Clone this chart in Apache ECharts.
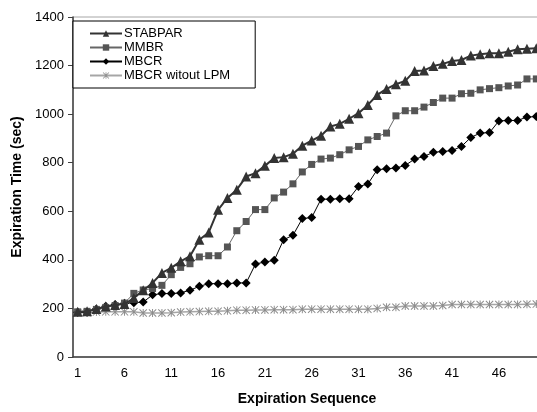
<!DOCTYPE html>
<html lang="en">
<head>
  <meta charset="UTF-8">
  <title>expiration-time</title>
  <style>
    html,
    body,
    #main {
      margin: 0;
      padding: 0;
    }

    #main {
      width: 537px;
      height: 412px;
      background: #fff;
    }
  </style>
</head>
<body>
  <div id="main"></div>
  <script src="https://cdn.jsdelivr.net/npm/echarts@6/dist/echarts.min.js"></script>
  <script>
    // expiration sequence 1..50
    const seq = [];
    for (let i = 1; i <= 50; i++) seq.push(String(i));

    const stabpar = [186, 188, 198, 208, 214, 218, 243, 275, 305, 346,
      367, 394, 415, 483, 513, 606, 655, 689, 743, 757,
      787, 819, 823, 837, 870, 891, 911, 949, 960, 981,
      1004, 1038, 1079, 1104, 1123, 1137, 1178, 1180, 1198, 1207,
      1219, 1223, 1241, 1247, 1251, 1251, 1257, 1267, 1269, 1271];

    const mmbr = [186, 188, 196, 204, 212, 222, 262, 276, 282, 295,
      339, 369, 384, 412, 417, 417, 453, 520, 558, 607,
      607, 655, 679, 713, 762, 793, 815, 819, 833, 853,
      867, 894, 908, 922, 993, 1014, 1014, 1029, 1048, 1066,
      1066, 1084, 1086, 1100, 1105, 1109, 1116, 1120, 1145, 1145];

    const mbcr = [184, 184, 198, 209, 216, 221, 223, 226, 256, 261,
      261, 264, 275, 291, 302, 302, 302, 305, 305, 383,
      391, 398, 483, 501, 570, 574, 650, 650, 652, 652,
      702, 712, 771, 775, 778, 789, 815, 826, 843, 846,
      850, 867, 904, 922, 924, 972, 974, 974, 988, 990];

    const mbcrNoLpm = [182, 182, 185, 186, 186, 186, 186, 181, 181, 181,
      182, 185, 186, 187, 188, 188, 190, 193, 193, 194,
      194, 195, 195, 195, 197, 197, 197, 197, 197, 197,
      197, 197, 200, 205, 205, 210, 210, 210, 210, 212,
      216, 216, 216, 216, 216, 216, 216, 216, 217, 218];

    // excel style asterisk marker (X plus vertical bar)
    const asterisk = 'path://M4.4,0 L5.6,0 L5.6,10 L4.4,10 Z ' +
      'M0,0.85 L0.85,0 L10,9.15 L9.15,10 Z ' +
      'M10,0.85 L0.85,10 L0,9.15 L9.15,0 Z';

    const font = 'Liberation Sans, Arial, sans-serif';

    const chart = echarts.init(document.getElementById('main'));
    const option = {
      animation: false,
      backgroundColor: '#fff',
      textStyle: { fontFamily: font, color: '#000' },
      grid: {
        left: 73,
        top: 17,
        right: -4,
        bottom: 55,
        containLabel: false,
        outerBoundsMode: 'none',
        show: true,
        borderColor: '#a6a6a6',
        borderWidth: 1
      },
      legend: {
        left: 73,
        top: 21,
        orient: 'vertical',
        backgroundColor: '#fff',
        borderColor: '#000',
        borderWidth: 1,
        padding: [6, 25, 6, 16],
        itemGap: 1,
        itemWidth: 32,
        itemHeight: 8,
        textStyle: { fontFamily: font, fontSize: 13, color: '#000', padding: [0, 0, 0, -3] },
        data: ['STABPAR', 'MMBR', 'MBCR', 'MBCR witout LPM']
      },
      xAxis: {
        type: 'category',
        data: seq,
        boundaryGap: true,
        name: 'Expiration Sequence',
        nameLocation: 'middle',
        nameGap: 35,
        nameTextStyle: { fontFamily: font, fontSize: 14, fontWeight: 'bold', color: '#000' },
        axisLine: { lineStyle: { color: '#404040', width: 1.5 } },
        axisTick: { interval: 4, length: 5, lineStyle: { color: '#404040' } },
        axisLabel: { interval: 4, fontSize: 13, color: '#000', margin: 10 },
        splitLine: { show: false }
      },
      yAxis: {
        type: 'value',
        min: 0,
        max: 1400,
        interval: 200,
        name: 'Expiration Time (sec)',
        nameLocation: 'middle',
        nameGap: 48,
        nameTextStyle: { fontFamily: font, fontSize: 14, fontWeight: 'bold', color: '#000' },
        axisLine: { show: true, lineStyle: { color: '#404040', width: 1.5 } },
        axisTick: { show: true, length: 5, lineStyle: { color: '#404040' } },
        axisLabel: { fontSize: 13, color: '#000', margin: 9, formatter: v => String(v) },
        splitLine: { show: false }
      },
      series: [{
          name: 'STABPAR',
          type: 'line',
          data: stabpar,
          showAllSymbol: true,
          symbol: 'triangle',
          symbolSize: 10,
          z: 5,
          itemStyle: { color: '#333' },
          lineStyle: { color: '#333', width: 2 }
        },
        {
          name: 'MMBR',
          type: 'line',
          data: mmbr,
          showAllSymbol: true,
          symbol: 'rect',
          symbolSize: 7,
          z: 4,
          itemStyle: { color: '#555' },
          lineStyle: { color: '#666', width: 1 }
        },
        {
          name: 'MBCR',
          type: 'line',
          data: mbcr,
          showAllSymbol: true,
          symbol: 'diamond',
          symbolSize: 9,
          z: 3,
          itemStyle: { color: '#000' },
          lineStyle: { color: '#000', width: 1 }
        },
        {
          name: 'MBCR witout LPM',
          type: 'line',
          data: mbcrNoLpm,
          showAllSymbol: true,
          symbol: asterisk,
          symbolSize: 8,
          z: 2,
          itemStyle: { color: '#8c8c8c' },
          lineStyle: { color: '#a6a6a6', width: 1.5 }
        }
      ]
    };

    chart.setOption(option);
  </script>
</body>
</html>
